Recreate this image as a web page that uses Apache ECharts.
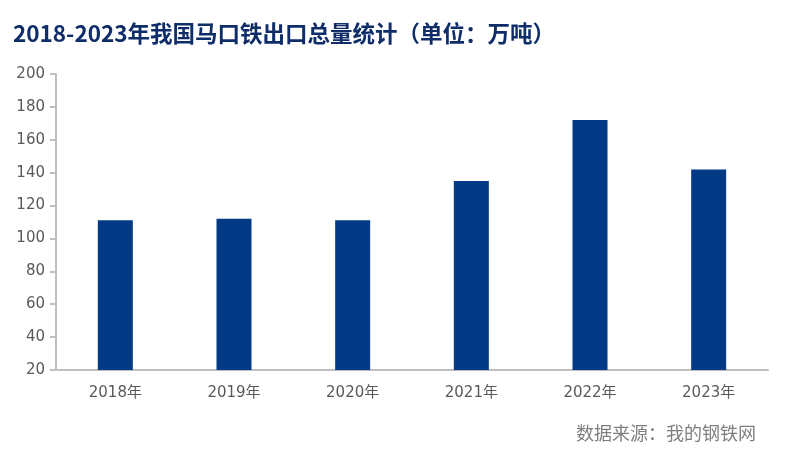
<!DOCTYPE html>
<html><head><meta charset="utf-8">
<script src="https://cdn.jsdelivr.net/npm/echarts@6/dist/echarts.min.js"></script>
<style>html,body{margin:0;padding:0;background:#fff;}#c{width:792px;height:451px;}</style>
</head><body><div id="c"></div>
<script>
const categories = ['2018年','2019年','2020年','2021年','2022年','2023年'];
const exportValues = [111, 112, 111, 135, 172, 142];
const yTicks = {min: 20, max: 200, interval: 20};
const titleText = '2018-2023年我国马口铁出口总量统计（单位：万吨）';
const sourceText = '数据来源：我的钢铁网';

const chart = echarts.init(document.getElementById('c'));
chart.setOption({
  animation: false,
  backgroundColor: '#fff',
  title: [{
    text: titleText, left: 8, top: 17,
    textStyle: {fontFamily: 'Noto Sans CJK SC', fontWeight: 'bold', fontSize: 22.5, color: '#0F2D69'}
  }, {
    text: sourceText, right: 31, top: 419,
    textStyle: {fontFamily: 'Noto Sans CJK SC', fontWeight: 'normal', fontSize: 18, color: '#7F7F7F'}
  }],
  grid: {left: 56, right: 24, top: 74, bottom: 81, containLabel: false},
  xAxis: {
    type: 'category', data: categories,
    axisLine: {lineStyle: {color: '#BFBFBF', width: 2}},
    axisTick: {show: false},
    axisLabel: {color: '#595959', fontSize: 15, fontFamily: 'DejaVu Sans, Noto Sans CJK SC', margin: 16}
  },
  yAxis: {
    type: 'value', min: yTicks.min, max: yTicks.max, interval: yTicks.interval,
    axisLine: {show: true, lineStyle: {color: '#BFBFBF', width: 2}},
    axisTick: {show: true, length: 6, lineStyle: {color: '#BFBFBF', width: 2}},
    splitLine: {show: false},
    axisLabel: {color: '#595959', fontSize: 15, fontFamily: 'DejaVu Sans', margin: 11}
  },
  series: [{
    type: 'bar', data: exportValues, barWidth: 35,
    itemStyle: {color: '#023A85'}
  }]
});
</script></body></html>
